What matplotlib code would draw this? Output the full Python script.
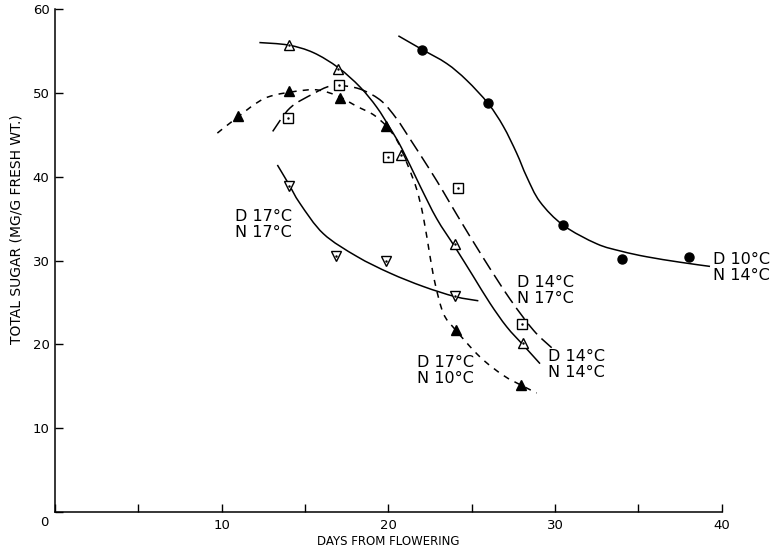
import matplotlib.pyplot as plt
from matplotlib.path import Path
from matplotlib.patches import PathPatch
import numpy as np

# measured points (days from flowering, total sugar)
d10n14_x = [22.0, 25.96, 30.5, 34.0, 38.05]
d10n14_y = [55.1, 48.75, 34.2, 30.2, 30.4]

d14n14_x = [14.02, 16.96, 20.76, 24.0, 28.06]
d14n14_y = [55.7, 52.9, 42.6, 32.0, 20.2]

d14n17_x = [13.96, 17.02, 19.96, 24.2, 28.03]
d14n17_y = [47.0, 50.9, 42.3, 38.7, 22.4]

d17n10_x = [10.96, 14.04, 17.08, 19.86, 24.06, 27.96]
d17n10_y = [47.2, 50.2, 49.4, 46.0, 21.7, 15.1]

d17n17_x = [14.02, 16.84, 19.86, 24.0]
d17n17_y = [38.9, 30.5, 29.9, 25.8]

# hand-drawn fitted curves
c_d10n14_x = [20.6, 22.0, 23.5, 24.7, 26.0, 26.9, 27.7, 28.3, 29.1, 30.5, 32.5, 34.0, 35.5, 37.5, 39.3]
c_d10n14_y = [56.8, 55.2, 53.5, 51.5, 48.7, 46.0, 42.8, 40.0, 37.0, 34.2, 32.0, 31.1, 30.45, 29.8, 29.3]

c_d14n14_x = [12.26, 14.0, 15.5, 17.0, 18.3, 19.3, 20.1, 20.8, 21.9, 22.9, 24.0, 25.1, 26.1, 27.1, 28.1, 29.1]
c_d14n14_y = [56.0, 55.7, 54.8, 53.0, 50.7, 48.3, 45.8, 43.4, 38.9, 35.0, 31.6, 28.1, 24.9, 22.1, 19.9, 17.7]

c_d14n17_x = [13.06, 14.1, 15.5, 16.5, 17.5, 18.5, 19.6, 20.5, 21.3, 22.5, 23.3, 24.1, 25.7, 27.3, 28.7, 29.8]
c_d14n17_y = [45.4, 48.2, 49.9, 50.8, 50.8, 50.3, 49.0, 46.9, 44.5, 40.8, 38.2, 35.5, 30.3, 25.4, 21.7, 19.6]

c_d17n10_x = [9.74, 10.5, 12.1, 13.1, 14.9, 15.9, 17.0, 18.1, 19.1, 19.9, 20.5, 20.9, 21.2, 21.7, 22.1, 22.5, 22.8, 23.3, 24.0, 25.5, 26.9, 28.0, 28.9]
c_d17n10_y = [45.2, 46.4, 48.8, 49.7, 50.3, 50.3, 49.6, 48.4, 47.4, 46.0, 44.4, 42.6, 41.2, 38.5, 35.2, 30.5, 27.3, 23.7, 21.8, 18.5, 16.3, 15.1, 14.2]

c_d17n17_x = [13.34, 14.0, 14.7, 16.1, 18.1, 20.1, 22.1, 24.0, 25.4]
c_d17n17_y = [41.4, 39.2, 36.8, 33.2, 30.5, 28.5, 26.9, 25.7, 25.2]

labels = ["D 17°C\nN 17°C", "D 14°C\nN 17°C", "D 14°C\nN 14°C", "D 17°C\nN 10°C", "D 10°C\nN 14°C"]
label_x = [10.8, 27.7, 29.6, 21.7, 39.5]
label_y = [36.2, 28.3, 19.5, 18.7, 31.0]


def smooth_path(xs, ys):
    # Catmull-Rom through the read points, drawn as cubic Bezier segments
    p = np.column_stack([xs, ys])
    verts = [p[0]]
    codes = [Path.MOVETO]
    for i in range(len(p) - 1):
        p0 = p[i - 1] if i > 0 else p[i]
        p3 = p[i + 2] if i + 2 < len(p) else p[i + 1]
        c1 = p[i] + (p[i + 1] - p0) / 6
        c2 = p[i + 1] - (p3 - p[i]) / 6
        verts += [c1, c2, p[i + 1]]
        codes += [Path.CURVE4] * 3
    return Path(verts, codes)


def curve(ax, xs, ys, **kw):
    patch = PathPatch(smooth_path(xs, ys), fill=False, edgecolor='black', **kw)
    ax.add_patch(patch)


plt.rcParams['font.family'] = 'DejaVu Sans'
fig = plt.figure(figsize=(7.73, 5.5), dpi=100)
ax = fig.add_axes([0.0712, 0.069, 0.8624, 0.9146])

lw = 1.1
curve(ax, c_d10n14_x, c_d10n14_y, lw=lw)
curve(ax, c_d14n14_x, c_d14n14_y, lw=lw)
curve(ax, c_d14n17_x, c_d14n17_y, lw=lw, linestyle=(0, (9, 4)))
curve(ax, c_d17n10_x, c_d17n10_y, lw=lw, linestyle=(0, (4, 4)))
curve(ax, c_d17n17_x, c_d17n17_y, lw=lw)

ax.plot(d10n14_x, d10n14_y, 'o', color='black', ms=6.5, ls='none')
ax.plot(d17n10_x, d17n10_y, '^', color='black', ms=7, ls='none')
ax.plot(d14n14_x, d14n14_y, '^', mfc='white', mec='black', mew=1, ms=7, ls='none')
ax.plot(d14n17_x, d14n17_y, 's', mfc='white', mec='black', mew=1, ms=6.5, ls='none')
ax.plot(d17n17_x, d17n17_y, 'v', mfc='white', mec='black', mew=1, ms=7, ls='none')
# little centre dots of the open symbols
for xs, ys in [(d14n14_x, d14n14_y), (d14n17_x, d14n17_y), (d17n17_x, d17n17_y)]:
    ax.plot(xs, ys, '.', color='black', ms=1.5, ls='none')

for t, x, y in zip(labels, label_x, label_y):
    ax.text(x, y, t, fontsize=11.5, va='top', ha='left', linespacing=1.1)

ax.set_xlim(0, 40)
ax.set_ylim(0, 60)
ax.spines['top'].set_visible(False)
ax.spines['right'].set_visible(False)
for s in ['left', 'bottom']:
    ax.spines[s].set_linewidth(1.1)

ax.set_xticks([0, 10, 20, 30, 40])
ax.set_xticklabels(['', '10', '20', '30', '40'])
ax.set_xticks([5, 15, 25, 35], minor=True)
ax.set_yticks([0, 10, 20, 30, 40, 50, 60])
ax.set_yticklabels(['', '10', '20', '30', '40', '50', '60'])
ax.tick_params(axis='both', which='both', direction='in', length=6, width=1, labelsize=9.5)
ax.tick_params(axis='x', pad=5)
ax.tick_params(axis='y', pad=4)
ax.text(-0.0165, -0.02, '0', transform=ax.transAxes, ha='center', va='center', fontsize=9.5)

ax.set_xlabel('DAYS FROM FLOWERING', fontsize=8.5, labelpad=2)
ax.set_ylabel('TOTAL SUGAR (MG/G FRESH WT.)', fontsize=10)
ax.yaxis.set_label_coords(-0.047, 0.563)

fig.savefig('out.png', dpi=100)
